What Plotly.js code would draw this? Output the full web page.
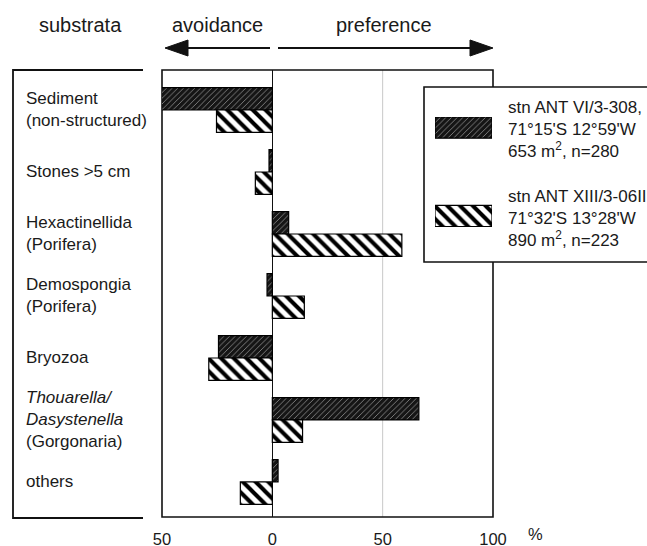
<!DOCTYPE html>
<html><head><meta charset="utf-8">
<script src="https://cdn.plot.ly/plotly-3.0.1.min.js"></script>
<style>body{margin:0;background:#fff}#chart{width:647px;height:546px}</style>
</head><body><div id="chart"></div>
<script>
// ---- data ----
const categories = ['Sediment (non-structured)', 'Stones >5 cm', 'Hexactinellida (Porifera)', 'Demospongia (Porifera)', 'Bryozoa', 'Thouarella/Dasystenella (Gorgonaria)', 'others'];
const categoryLabels = ['Sediment<br>(non-structured)', 'Stones &gt;5 cm', 'Hexactinellida<br>(Porifera)', 'Demospongia<br>(Porifera)', 'Bryozoa', '<i>Thouarella/</i><br><i>Dasystenella</i><br>(Gorgonaria)', 'others'];
const station1 = [-51, -1.5, 7.4, -2.4, -24.4, 66.4, 2.6];
const station2 = [-25.3, -7.7, 58.7, 14.5, -28.8, 13.7, -14.5];
const series1Label = "stn ANT VI/3-308,<br>71°15'S 12°59'W<br>653 m<sup>2</sup>, n=280";
const series2Label = "stn ANT XIII/3-06II<br>71°32'S 13°28'W<br>890 m<sup>2</sup>, n=223";
const tickVals = [-50, 0, 50, 100];
const tickText = ['50', '0', '50', '100'];

// ---- layout helpers (pixel -> paper) ----
const L = 162, R = 493, T = 70, B = 517;
const px = x => (x - L) / (R - L);
const py = y => (B - y) / (B - T);
const FONT = 'Liberation Sans, Arial, Helvetica, sans-serif';
const TXT = '#1a1a1a';

const mark1 = {color: '#111', line: {color: '#000', width: 1.2},
  pattern: {shape: '/', size: 4, solidity: 0.22, fgcolor: '#888', bgcolor: '#151515', fillmode: 'replace'}};
const mark2 = {color: '#fff', line: {color: '#000', width: 1.2},
  pattern: {shape: '\\', size: 9, solidity: 0.45, fgcolor: '#000', bgcolor: '#fff', fillmode: 'replace'}};

const traces = [
  {type: 'bar', orientation: 'h', x: station1, y: categories, marker: mark1, cliponaxis: false, hoverinfo: 'x', showlegend: false},
  {type: 'bar', orientation: 'h', x: station2, y: categories, marker: mark2, cliponaxis: false, hoverinfo: 'x', showlegend: false},
  // legend swatches
  {type: 'bar', orientation: 'h', x: [1], y: ['s1'], xaxis: 'x2', yaxis: 'y2', width: 0.24, marker: mark1, hoverinfo: 'skip', showlegend: false},
  {type: 'bar', orientation: 'h', x: [1], y: ['s2'], xaxis: 'x2', yaxis: 'y2', width: 0.24, marker: mark2, hoverinfo: 'skip', showlegend: false}
];

const annotations = categoryLabels.map((t, i) => ({
  text: t, x: px(24), xref: 'paper', y: categories[i], yref: 'y',
  xanchor: 'left', yanchor: 'middle', align: 'left', showarrow: false, font: {size: 17, color: TXT, family: FONT}
}));
const head = (t, x, y, s) => ({text: t, x: px(x), y: py(y), xref: 'paper', yref: 'paper',
  xanchor: 'center', yanchor: 'middle', showarrow: false, font: {size: s, color: TXT, family: FONT}});
annotations.push(head('substrata', 80, 25, 20));
annotations.push(head('avoidance', 217, 25, 20));
annotations.push(head('preference', 384, 25, 20));
annotations.push(head('%', 535, 534, 16.5));
annotations.push({text: series1Label, x: px(506), y: py(129.5), xref: 'paper', yref: 'paper',
  xanchor: 'left', yanchor: 'middle', align: 'left', showarrow: false, font: {size: 17, color: TXT, family: FONT}});
annotations.push({text: series2Label, x: px(506), y: py(218), xref: 'paper', yref: 'paper',
  xanchor: 'left', yanchor: 'middle', align: 'left', showarrow: false, font: {size: 17, color: TXT, family: FONT}});

const P = (x, y) => px(x) + ',' + py(y);
const shapes = [
  {type: 'line', xref: 'x', yref: 'paper', x0: 50, x1: 50, y0: 0, y1: 1, line: {color: '#c8c8c8', width: 1}, layer: 'below'},
  {type: 'rect', xref: 'paper', yref: 'paper', x0: 0, x1: 1, y0: 0, y1: 1, line: {color: '#111', width: 1.6}, layer: 'below'},
  {type: 'rect', xref: 'paper', yref: 'paper', x0: px(424), x1: px(690), y0: py(262), y1: py(87), fillcolor: '#fff', line: {color: '#111', width: 1.6}, layer: 'below'},
  // left label box
  {type: 'path', xref: 'paper', yref: 'paper', path: 'M' + P(143, 70) + 'L' + P(13, 70) + 'L' + P(13, 518) + 'L' + P(143, 518), line: {color: '#111', width: 1.8}},
  // arrows
  {type: 'line', xref: 'paper', yref: 'paper', x0: px(186), x1: px(270), y0: py(48), y1: py(48), line: {color: '#111', width: 2}},
  {type: 'path', xref: 'paper', yref: 'paper', path: 'M' + P(165, 48) + 'L' + P(188, 40) + 'L' + P(188, 56) + 'Z', fillcolor: '#111', line: {color: '#111', width: 1}},
  {type: 'line', xref: 'paper', yref: 'paper', x0: px(278), x1: px(472), y0: py(48), y1: py(48), line: {color: '#111', width: 2}},
  {type: 'path', xref: 'paper', yref: 'paper', path: 'M' + P(493, 48) + 'L' + P(470, 40) + 'L' + P(470, 56) + 'Z', fillcolor: '#111', line: {color: '#111', width: 1}}
];

const layout = {
  width: 647, height: 546,
  margin: {l: L, r: 647 - R, t: T, b: 546 - B, pad: 0},
  paper_bgcolor: '#fff', plot_bgcolor: '#fff',
  barmode: 'group', bargap: 0.28, bargroupgap: 0,
  showlegend: false,
  font: {family: FONT, color: TXT},
  xaxis: {range: [-50, 100], tickvals: tickVals, ticktext: tickText, showgrid: false,
    zeroline: true, zerolinecolor: '#111', zerolinewidth: 1.5, showline: false,
    ticks: '', ticklabelstandoff: 10, tickfont: {size: 16.5, color: TXT, family: FONT}, fixedrange: true},
  yaxis: {type: 'category', categoryarray: categories, categoryorder: 'array', range: [6.565, -0.645],
    showticklabels: false, showgrid: false, zeroline: false, showline: false, ticks: '', fixedrange: true},
  xaxis2: {domain: [px(435), px(492)], range: [0, 1], anchor: 'y2', visible: false, fixedrange: true},
  yaxis2: {domain: [py(227), py(117)], range: [1.124, -0.119], type: 'category', categoryarray: ['s1', 's2'],
    anchor: 'x2', visible: false, fixedrange: true},
  annotations: annotations,
  shapes: shapes
};

Plotly.newPlot('chart', traces, layout, {displayModeBar: false, staticPlot: true});
</script></body></html>
